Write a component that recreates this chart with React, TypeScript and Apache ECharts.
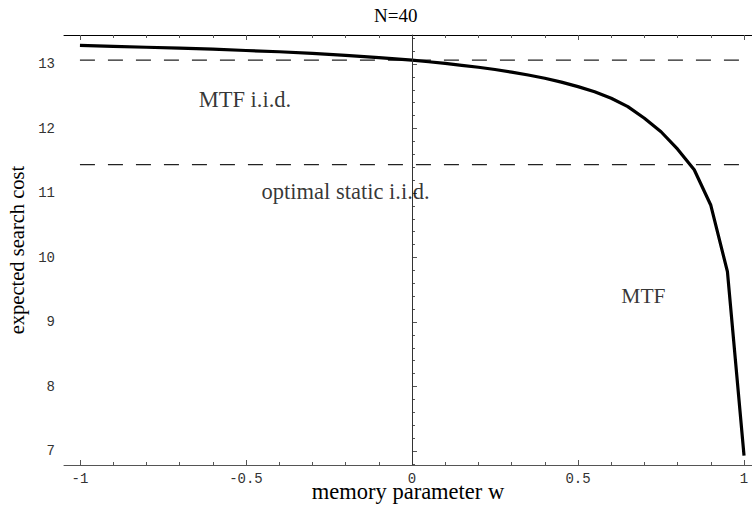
import React, { useEffect, useRef } from "react";
import * as echarts from "echarts";

// ---- data ----
const curveW = [-1, -0.9, -0.8, -0.7, -0.6, -0.5, -0.4, -0.3, -0.2, -0.1, 0, 0.05, 0.1, 0.15, 0.2, 0.25, 0.3, 0.35, 0.4, 0.45, 0.5, 0.55, 0.6, 0.65, 0.7, 0.75, 0.8, 0.85, 0.9, 0.95, 1];
const curveCost = [13.29, 13.275, 13.26, 13.245, 13.23, 13.21, 13.19, 13.165, 13.135, 13.1, 13.06, 13.035, 13.01, 12.98, 12.95, 12.915, 12.875, 12.83, 12.78, 12.72, 12.65, 12.57, 12.47, 12.34, 12.16, 11.95, 11.68, 11.36, 10.81, 9.78, 6.93];
const refW = [-1, 1];
const mtfIidCost = [13.06, 13.06];
const optimalStaticCost = [11.44, 11.44];

const annotTexts = ["MTF i.i.d.", "optimal static i.i.d."];
const annotW = [-0.503, -0.2];
const annotCost = [12.45, 11.03];
const curveLabelText = "MTF";
const curveLabelW = 0.697;
const curveLabelCost = 9.41;

const xMajorTicks = [-1, -0.5, 0, 0.5, 1];
const xTickLabels = ["-1", "-0.5", "0", "0.5", "1"];
const xMinorTicks = [-1, -0.9, -0.8, -0.7, -0.6, -0.5, -0.4, -0.3, -0.2, -0.1, 0, 0.1, 0.2, 0.3, 0.4, 0.5, 0.6, 0.7, 0.8, 0.9, 1];
const yMajorTicks = [7, 8, 9, 10, 11, 12, 13];
const yTickLabels = ["7", "8", "9", "10", "11", "12", "13"];
const yMinorTicks = [6.8, 7, 7.2, 7.4, 7.6, 7.8, 8, 8.2, 8.4, 8.6, 8.8, 9, 9.2, 9.4, 9.6, 9.8, 10, 10.2, 10.4, 10.6, 10.8, 11, 11.2, 11.4, 11.6, 11.8, 12, 12.2, 12.4, 12.6, 12.8, 13, 13.2, 13.4];

const titleText = "N=40";
const xName = "memory parameter w";
const yName = "expected search cost";

const X_MIN = -1.048;
const X_MAX = 1.024;
const Y_MIN = 6.783;
const Y_MAX = 13.45;

const SERIF = '"Liberation Serif", "DejaVu Serif", serif';
const MONO = '"Liberation Mono", "DejaVu Sans Mono", monospace';

export default function App() {
  const ref = useRef<HTMLDivElement>(null);
  useEffect(() => {
    if (!ref.current) return;
    const chart = echarts.init(ref.current, undefined, { renderer: "svg" });
    const axisGray = "#555";
    const labelFmt = (ticks: number[], labels: string[]) => (v: number) => {
      const i = ticks.findIndex((t) => Math.abs(t - v) < 1e-6);
      return i >= 0 ? labels[i] : "";
    };
    const baseX = { type: "value", min: X_MIN, max: X_MAX, splitLine: { show: false } };
    const baseY = { type: "value", min: Y_MIN, max: Y_MAX, splitLine: { show: false } };
    const annotLabel = {
      show: true,
      position: "inside",
      formatter: "{b}",
      fontFamily: SERIF,
      fontSize: 22.5,
      color: "#000",
      textBorderWidth: 0,
    };
    chart.setOption({
      animation: false,
      backgroundColor: "#fff",
      title: {
        text: titleText,
        left: 369,
        top: 1,
        textStyle: { fontFamily: SERIF, fontSize: 19, fontWeight: "normal", color: "#000" },
      },
      grid: { left: 64, top: 35, right: 0, bottom: 42, containLabel: false, outerBoundsMode: "none" },
      xAxis: [
        {
          ...baseX,
          position: "bottom",
          axisLine: { show: true, lineStyle: { color: axisGray, width: 1 } },
          axisTick: { show: true, inside: true, length: 5, customValues: xMajorTicks, lineStyle: { color: axisGray } },
          axisLabel: {
            show: true,
            customValues: xMajorTicks,
            formatter: labelFmt(xMajorTicks, xTickLabels),
            margin: 7,
            fontFamily: MONO,
            fontSize: 14,
            color: "#333",
          },
          name: xName,
          nameLocation: "middle",
          nameGap: 18.5,
          nameMoveOverlap: false,
          nameTextStyle: { fontFamily: SERIF, fontSize: 22.5, lineHeight: 16, color: "#000" },
        },
        {
          ...baseX,
          position: "bottom",
          axisLine: { show: false },
          axisTick: { show: true, inside: true, length: 3, customValues: xMinorTicks, lineStyle: { color: axisGray } },
          axisLabel: { show: false },
        },
        {
          ...baseX,
          position: "top",
          axisLine: { show: true, lineStyle: { color: "#000", width: 1 } },
          axisTick: { show: true, inside: true, length: 5, customValues: xMajorTicks, lineStyle: { color: axisGray } },
          axisLabel: { show: false },
        },
        {
          ...baseX,
          position: "top",
          axisLine: { show: false },
          axisTick: { show: true, inside: true, length: 3, customValues: xMinorTicks, lineStyle: { color: axisGray } },
          axisLabel: { show: false },
        },
      ],
      yAxis: [
        {
          ...baseY,
          position: "left",
          axisLine: { show: true, lineStyle: { color: axisGray, width: 1 } },
          axisTick: { show: true, inside: true, length: 5, customValues: yMajorTicks, lineStyle: { color: axisGray } },
          axisLabel: {
            show: true,
            customValues: yMajorTicks,
            formatter: labelFmt(yMajorTicks, yTickLabels),
            margin: 9,
            fontFamily: MONO,
            fontSize: 14,
            color: "#333",
          },
          name: yName,
          nameLocation: "middle",
          nameGap: 34,
          nameTextStyle: { fontFamily: SERIF, fontSize: 20.5, color: "#000" },
        },
        {
          ...baseY,
          position: "left",
          axisLine: { show: false },
          axisTick: { show: true, inside: true, length: 3, customValues: yMinorTicks, lineStyle: { color: axisGray } },
          axisLabel: { show: false },
        },
      ],
      series: [
        {
          type: "line",
          name: "MTF i.i.d.",
          xAxisIndex: 0,
          yAxisIndex: 0,
          data: refW.map((w, i) => [w, mtfIidCost[i]]),
          showSymbol: false,
          symbol: "none",
          lineStyle: { color: "#222", width: 1.4, type: [15, 13] },
          z: 2,
          markLine: {
            silent: true,
            symbol: "none",
            label: { show: false },
            lineStyle: { color: "#333", width: 1, type: "solid" },
            data: [{ xAxis: 0 }],
          },
        },
        {
          type: "line",
          name: "optimal static i.i.d.",
          xAxisIndex: 0,
          yAxisIndex: 0,
          data: refW.map((w, i) => [w, optimalStaticCost[i]]),
          showSymbol: false,
          symbol: "none",
          lineStyle: { color: "#222", width: 1.4, type: [15, 13] },
          z: 2,
        },
        {
          type: "line",
          name: "MTF",
          xAxisIndex: 0,
          yAxisIndex: 0,
          data: curveW.map((w, i) => [w, curveCost[i]]),
          showSymbol: false,
          symbol: "none",
          lineStyle: { color: "#000", width: 3.2 },
          z: 3,
        },
        {
          type: "scatter",
          xAxisIndex: 0,
          yAxisIndex: 0,
          symbolSize: 1,
          itemStyle: { color: "transparent" },
          silent: true,
          data: [
            ...annotTexts.map((t, i) => ({ name: t, value: [annotW[i], annotCost[i]] })),
            { name: curveLabelText, value: [curveLabelW, curveLabelCost], label: { fontSize: 21.5 } },
          ],
          label: annotLabel,
          z: 4,
        },
      ],
    });
    return () => chart.dispose();
  }, []);
  return <div ref={ref} style={{ width: 752, height: 507, position: "absolute", left: 0, top: 0 }} />;
}
